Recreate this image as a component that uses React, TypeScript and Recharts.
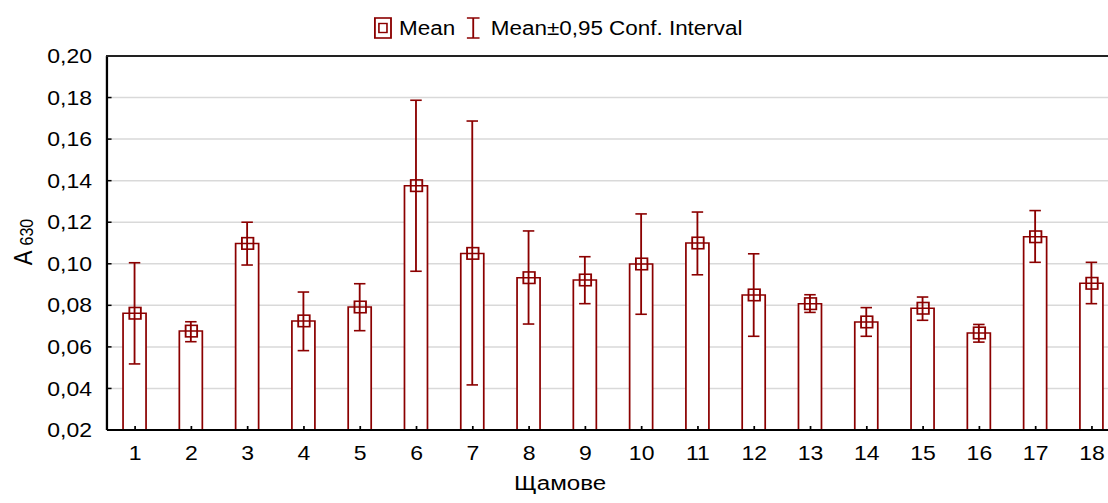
import React from 'react';
import { ComposedChart, Bar, Line, XAxis, YAxis, CartesianGrid, ErrorBar, Legend, Label } from 'recharts';

const categories = ['1','2','3','4','5','6','7','8','9','10','11','12','13','14','15','16','17','18'];
const means = [0.0762, 0.0676, 0.1098, 0.0725, 0.0792, 0.1376, 0.1050, 0.0933, 0.0922, 0.0999, 0.1100, 0.0850, 0.0808, 0.0720, 0.0786, 0.0667, 0.1130, 0.0906];
const lowerCI = [0.0518, 0.0625, 0.0994, 0.0582, 0.0678, 0.0964, 0.0417, 0.0710, 0.0808, 0.0757, 0.0947, 0.0651, 0.0766, 0.0651, 0.0728, 0.0623, 0.1007, 0.0808];
const upperCI = [0.1005, 0.0721, 0.1200, 0.0864, 0.0904, 0.1787, 0.1687, 0.1158, 0.1034, 0.1240, 0.1249, 0.1048, 0.0851, 0.0789, 0.0840, 0.0708, 0.1256, 0.1007];
const yTicks = [0.02, 0.04, 0.06, 0.08, 0.10, 0.12, 0.14, 0.16, 0.18, 0.20];

const data = categories.map((c, i) => ({
  name: c,
  mean: means[i],
  ci: [means[i] - lowerCI[i], upperCI[i] - means[i]],
}));

const RED = '#8b0000';
const SX = 1.15;
const PLOT_TOP = 56;
const FONT = "'Liberation Sans', Arial, sans-serif";

const fmt = (v: number) => v.toFixed(2).replace('.', ',');

const renderMarker = (props: any) => {
  const { cx, cy, index } = props;
  if (cx == null || cy == null) return <g key={`m-${index}`} />;
  return (
    <rect key={`m-${index}`} x={cx - 5} y={cy - 5.75} width={10} height={11.5}
      fill="none" stroke={RED} strokeWidth={1.6} />
  );
};

const renderLegend = () => (
  <div style={{ display: 'flex', alignItems: 'center', fontSize: 19.5, lineHeight: '22px', color: '#000', whiteSpace: 'nowrap', fontFamily: FONT }}>
    <svg width={16} height={22} style={{ display: 'block' }}>
      <rect x={1} y={1} width={14} height={20} fill="#fff" stroke={RED} strokeWidth={1.6} />
      <rect x={4.5} y={6.5} width={7} height={9} fill="none" stroke={RED} strokeWidth={1.4} />
    </svg>
    <span style={{ marginLeft: 6 }}>Mean</span>
    <svg width={13} height={22} style={{ display: 'block', marginLeft: 9 }}>
      <line x1={6.5} y1={1} x2={6.5} y2={21} stroke={RED} strokeWidth={1.6} />
      <line x1={1} y1={1} x2={12} y2={1} stroke={RED} strokeWidth={1.6} />
      <line x1={1} y1={21} x2={12} y2={21} stroke={RED} strokeWidth={1.6} />
    </svg>
    <span style={{ marginLeft: 9 }}>Mean±0,95 Conf. Interval</span>
  </div>
);

const YLabel = () => (
  <text transform="translate(27.5, 242) rotate(-90)" textAnchor="middle" fill="#000" fontFamily={FONT}>
    <tspan fontSize={22}>A</tspan>
    <tspan fontSize={16} dx={5} dy={1}>630</tspan>
  </text>
);

const XLabel = () => (
  <text x={487} y={490} textAnchor="middle" fill="#000" fontSize={21} fontFamily={FONT}>Щамове</text>
);

export default function App() {
  return (
    <div style={{ position: 'absolute', left: 0, top: 0, width: 1108, height: 503, overflow: 'hidden', background: '#fff' }}>
      <div style={{ width: 980, height: 503, transform: `scaleX(${SX})`, transformOrigin: '0 0', fontFamily: FONT }}>
        <ComposedChart width={980} height={503} data={data} margin={{ top: PLOT_TOP, right: 6, bottom: 0, left: 0 }}>
          <CartesianGrid horizontal vertical={false} stroke="#d9d9d9" strokeWidth={1.5} />
          <XAxis dataKey="name" height={73} tickSize={-4} tickMargin={20} stroke="#000"
            axisLine={{ stroke: '#000', strokeWidth: 2 }} tickLine={{ stroke: '#000', strokeWidth: 1.5 }}
            tick={{ fill: '#000', fontSize: 20 }} interval={0}>
            <Label content={<XLabel />} />
          </XAxis>
          <YAxis width={93} domain={[0.02, 0.2]} ticks={yTicks} tickFormatter={fmt} allowDataOverflow
            tickSize={-4} tickMargin={17} stroke="#000" axisLine={{ stroke: '#000', strokeWidth: 2 }}
            tickLine={{ stroke: '#000', strokeWidth: 1.5 }} tick={{ fill: '#000', fontSize: 20 }}>
            <Label content={<YLabel />} />
          </YAxis>
          <Legend content={renderLegend} verticalAlign="middle" align="center"
            wrapperStyle={{ top: 17, left: 325, width: 340, height: 22 }} />
          <Bar dataKey="mean" barSize={20} fill="#fff" stroke={RED} strokeWidth={1.5} isAnimationActive={false}>
            <ErrorBar dataKey="ci" direction="y" width={5} stroke={RED} strokeWidth={1.6} />
          </Bar>
          <Line dataKey="mean" stroke="none" dot={renderMarker} activeDot={false} isAnimationActive={false} legendType="none" />
        </ComposedChart>
      </div>
      <div style={{ position: 'absolute', left: 106, top: PLOT_TOP - 1, width: 1002, height: 2, background: '#222' }} />
    </div>
  );
}
